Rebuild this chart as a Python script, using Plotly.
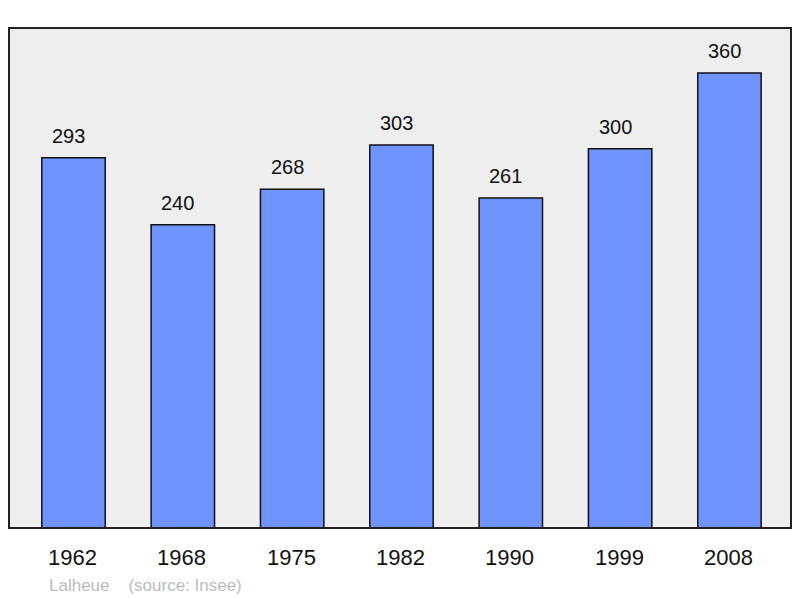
import plotly.graph_objects as go

years = ["1962", "1968", "1975", "1982", "1990", "1999", "2008"]
population = [293, 240, 268, 303, 261, 300, 360]
commune = "Lalheue"
source = "(source: Insee)"

FONT = "Liberation Sans, Arial, sans-serif"
idx = list(range(len(years)))

fig = go.Figure()
fig.add_trace(go.Bar(
    x=idx, y=population, width=0.58,
    marker=dict(color="#7094ff", line=dict(color="#111111", width=1.5)),
    customdata=years, hovertemplate="%{customdata}: %{y}<extra></extra>",
))

annotations = []
for i, v in zip(idx, population):
    annotations.append(dict(x=i, y=v, xref="x", yref="y", text=str(v), showarrow=False,
                            yanchor="middle", yshift=22, xshift=-5,
                            font=dict(family=FONT, size=20, color="#111111")))
for i, yr in zip(idx, years):
    annotations.append(dict(x=i, y=0, xref="x", yref="paper", text=yr, showarrow=False,
                            yanchor="middle", yshift=-29, xshift=-1,
                            font=dict(family=FONT, size=22, color="#111111")))
annotations.append(dict(x=38 / 782, y=0, xref="paper", yref="paper", xanchor="left",
                        yanchor="middle", yshift=-57, showarrow=False,
                        text=commune + "    " + source,
                        font=dict(family=FONT, size=17, color="#bbbbbb")))

fig.update_layout(
    width=784, height=590,
    margin=dict(l=1, r=1, t=20, b=70, pad=0),
    paper_bgcolor="white", plot_bgcolor="#eeeeee",
    showlegend=False,
    xaxis=dict(type="linear", range=[-0.59, 6.563], showticklabels=False, showgrid=False,
               zeroline=False, fixedrange=True),
    yaxis=dict(range=[0, 395.6], showticklabels=False, showgrid=False, zeroline=False, fixedrange=True),
    annotations=annotations,
    shapes=[dict(type="rect", xref="paper", yref="paper", x0=0, x1=1, y0=0, y1=1,
                 line=dict(color="#222222", width=2), layer="above")],
)

fig.write_html("out.html")
